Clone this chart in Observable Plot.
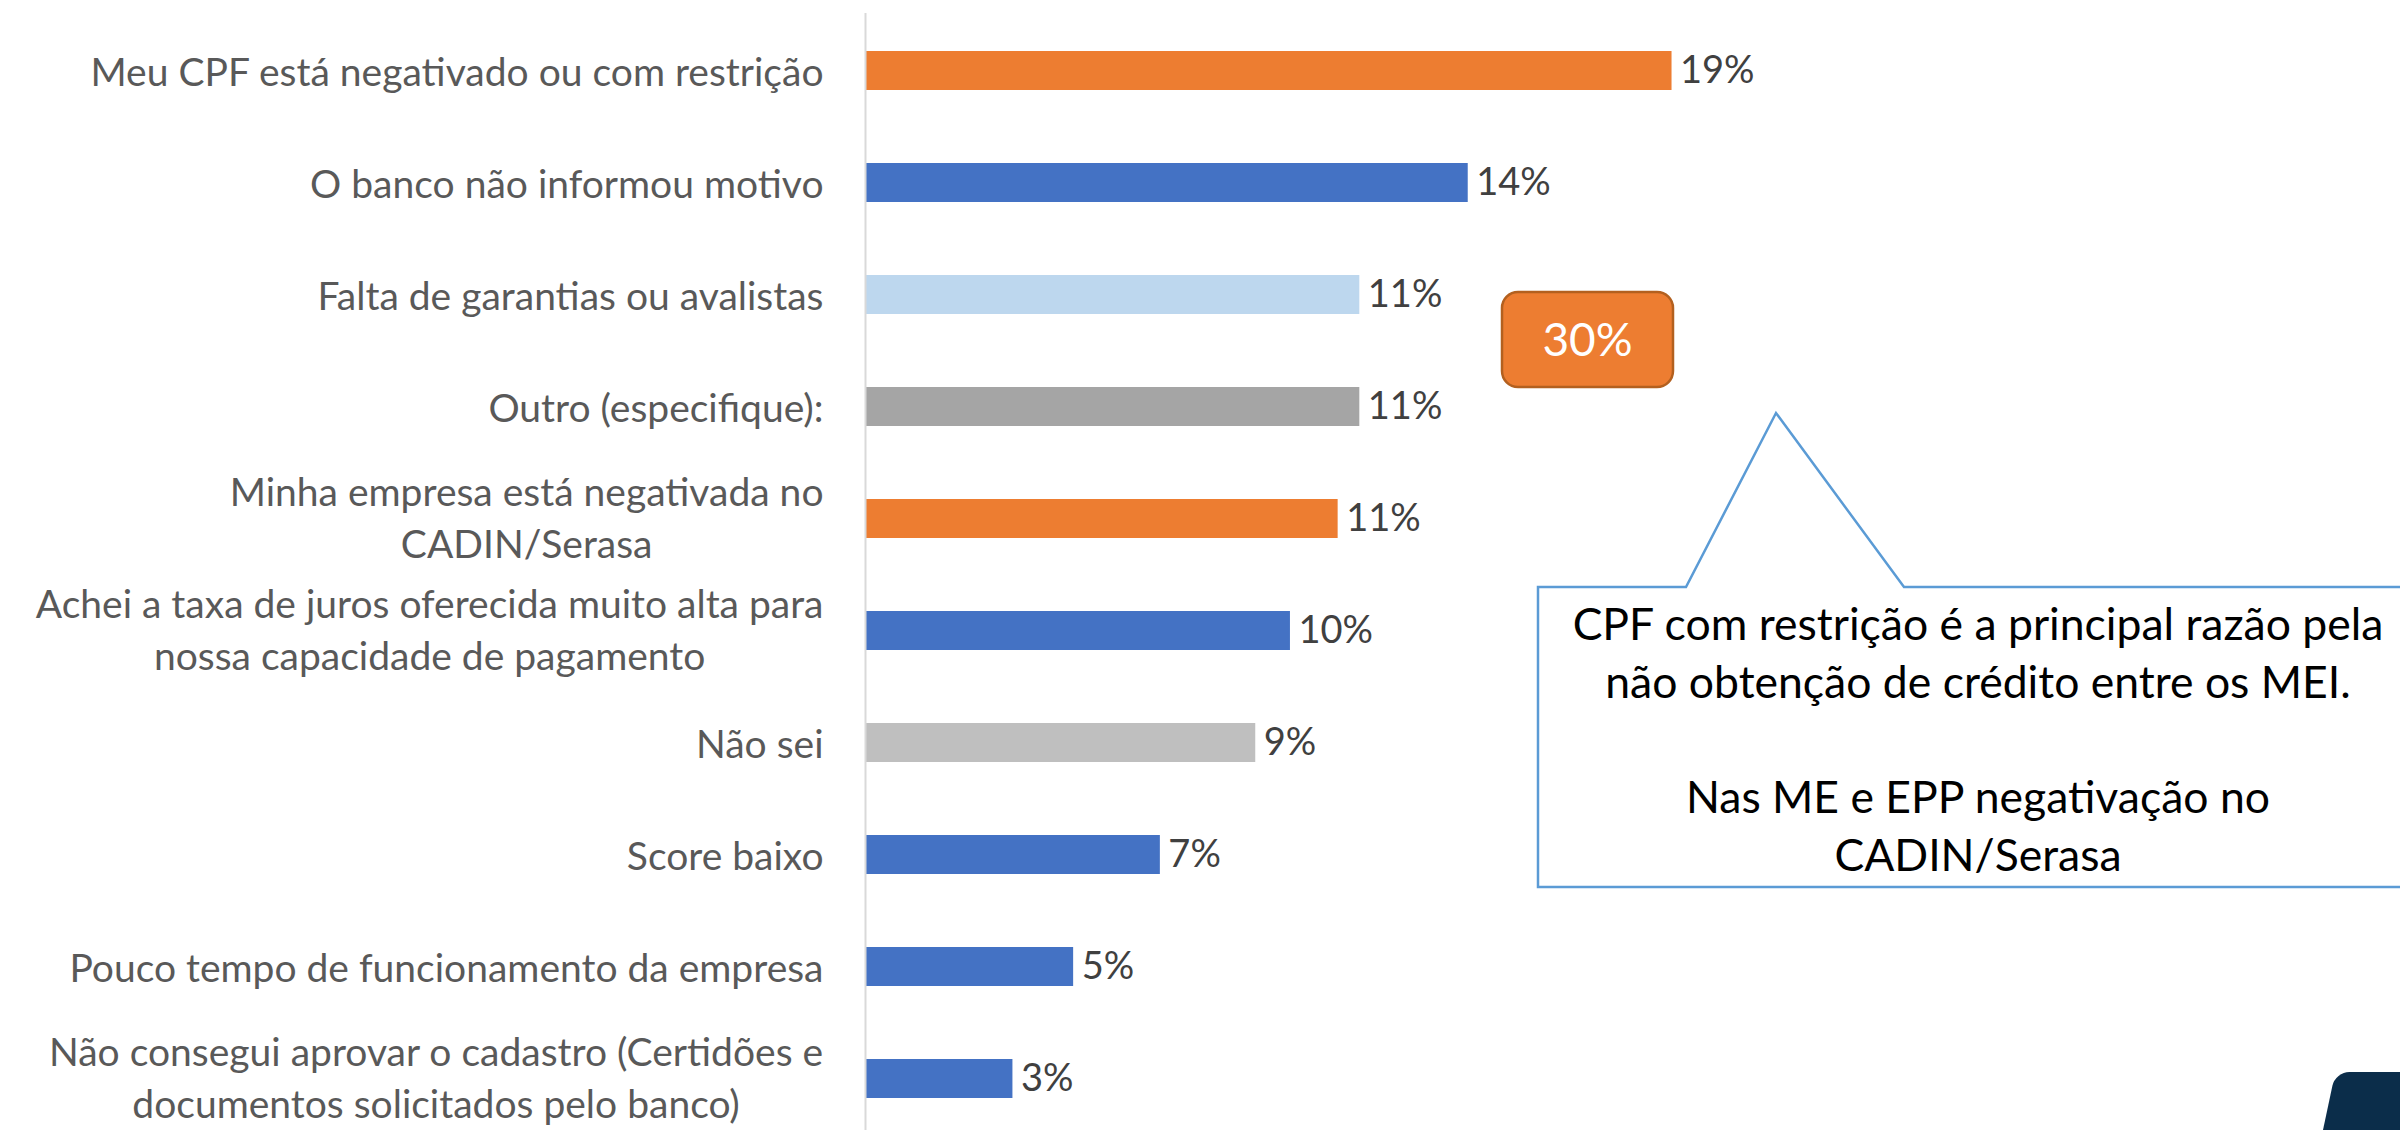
<!DOCTYPE html>
<html>
<head>
<meta charset="utf-8">
<script src="https://cdn.jsdelivr.net/npm/d3@7"></script>
<script src="https://cdn.jsdelivr.net/npm/@observablehq/plot@0.6"></script>
<style>
  html, body { margin: 0; padding: 0; background: #fff; }
  #wrap { position: relative; width: 2400px; height: 1130px; overflow: hidden; font-family: Lato, "Open Sans", sans-serif; }
  #chart { position: absolute; left: 0; top: 0; }
  #overlay { position: absolute; left: 0; top: 0; }
  #logo { position: absolute; left: 2323px; top: 1072px; width: 120px; height: 80px; background: #0B2D4A; border-top-left-radius: 14px; transform: skewX(-12deg); transform-origin: 0 58px; }
</style>
</head>
<body>
<div id="wrap">
  <div id="chart"></div>
  <svg id="overlay" width="2400" height="1130"></svg>
  <div id="logo"></div>
</div>
<script>
// ---- data ----
const categories = [
  "Meu CPF está negativado ou com restrição",
  "O banco não informou motivo",
  "Falta de garantias ou avalistas",
  "Outro (especifique):",
  "Minha empresa está negativada no\nCADIN/Serasa",
  "Achei a taxa de juros oferecida muito alta para\nnossa capacidade de pagamento",
  "Não sei",
  "Score baixo",
  "Pouco tempo de funcionamento da empresa",
  "Não consegui aprovar o cadastro (Certidões e\ndocumentos solicitados pelo banco)"
];
const values = [18.6, 13.9, 11.4, 11.4, 10.9, 9.8, 9.0, 6.8, 4.8, 3.4];
const colors = ["#ED7D31", "#4472C4", "#BDD7EE", "#A5A5A5", "#ED7D31", "#4472C4", "#BFBFBF", "#4472C4", "#4472C4", "#4472C4"];
const highlightLabel = "30%";
const calloutLines = [
  "CPF com restrição é a principal razão pela",
  "não obtenção de crédito entre os MEI.",
  "",
  "Nas ME e EPP negativação no",
  "CADIN/Serasa"
];

const data = categories.map((c, i) => ({cat: c, value: values[i], color: colors[i]}));

const FONT = "Lato";
const labelSize = 39;
const labelGap = 42;

const canvas = document.createElement("canvas");
const ctx = canvas.getContext("2d");
ctx.font = `${labelSize}px ${FONT}`;
function blockWidth(s) { return Math.max(...s.split("\n").map(l => ctx.measureText(l).width)); }

const labelMarks = data.map(d => {
  const multi = d.cat.includes("\n");
  return Plot.text([d], {
    y: "cat",
    text: "cat",
    frameAnchor: "left",
    textAnchor: multi ? "middle" : "end",
    dx: multi ? -labelGap - blockWidth(d.cat) / 2 : -labelGap,
    dy: multi ? -4 : -2,
    lineHeight: 1.34,
    fontSize: labelSize,
    fill: "#595959"
  });
});

const chart = Plot.plot({
  width: 2400,
  height: 1130,
  marginLeft: 865,
  marginRight: 0,
  marginTop: 13,
  marginBottom: -6,
  style: {fontFamily: FONT, background: "transparent", overflow: "visible"},
  x: {domain: [0, 35.4], axis: null},
  y: {domain: categories, paddingInner: 0.653, paddingOuter: 0.3265, axis: null},
  color: {type: "identity"},
  marks: [
    Plot.barX(data, {x: "value", y: "cat", fill: "color"}),
    Plot.ruleX([0], {stroke: "#D9D9D9", strokeWidth: 2}),
    Plot.text(data, {
      x: "value", y: "cat",
      text: d => Math.round(d.value) + "%",
      textAnchor: "start", dx: 8,
      fontSize: 38, fill: "#404040"
    }),
    ...labelMarks
  ]
});
document.getElementById("chart").appendChild(chart);

// ---- annotations ----
const ov = d3.select("#overlay");
ov.append("rect")
  .attr("x", 1502).attr("y", 292).attr("width", 171).attr("height", 95)
  .attr("rx", 16).attr("fill", "#ED7D31").attr("stroke", "#B3601F").attr("stroke-width", 2.5);
ov.append("text")
  .attr("x", 1587.5).attr("y", 339.5).attr("dy", "0.35em")
  .attr("text-anchor", "middle").attr("fill", "#fff")
  .attr("font-family", FONT).attr("font-size", 46).text(highlightLabel);

ov.append("path")
  .attr("d", "M1538,587 L1686,587 L1776,413 L1904,587 L2420,587 L2420,887 L1538,887 Z")
  .attr("fill", "#fff").attr("stroke", "#5B9BD5").attr("stroke-width", 2.5);
const ct = ov.append("text")
  .attr("text-anchor", "middle").attr("fill", "#000")
  .attr("font-family", FONT).attr("font-size", 44.5);
calloutLines.forEach((l, i) => {
  ct.append("tspan").attr("x", 1978).attr("y", 640 + i * 57.8).text(l);
});
</script>
</body>
</html>
